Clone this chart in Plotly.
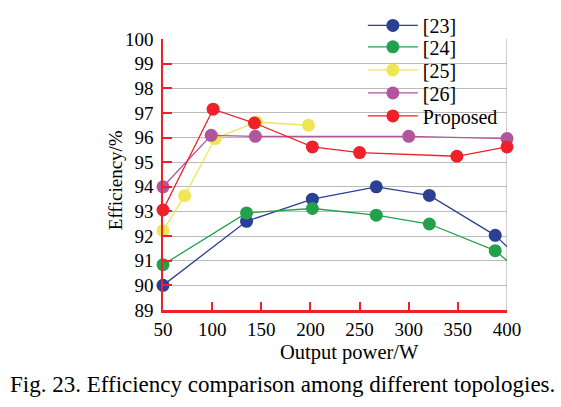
import plotly.graph_objects as go

# ---- data ----
x23 = [50, 135, 202, 267, 321, 388]
y23 = [90.0, 92.6, 93.5, 94.0, 93.65, 92.03]
tail23_x = [388, 430]
tail23_y = [92.03, 90.42]

x24 = [50, 135, 202, 267, 321, 388]
y24 = [90.84, 92.94, 93.12, 92.85, 92.49, 91.41]
tail24_x = [388, 430]
tail24_y = [91.41, 89.98]

x25 = [50, 72, 103, 145, 198]
y25 = [92.22, 93.64, 95.96, 96.63, 96.50]

x26 = [50, 99, 144, 300, 400]
y26 = [94.0, 96.09, 96.05, 96.05, 95.96]

xp = [50, 101, 143, 202, 250, 349, 400]
yp = [93.06, 97.15, 96.59, 95.62, 95.39, 95.24, 95.62]

names = ["[23]", "[24]", "[25]", "[26]", "Proposed"]
colors = ["#2B3F95", "#23A04C", "#EEE655", "#B0559E", "#EE2029"]

x_ticks = [50, 100, 150, 200, 250, 300, 350, 400]
y_ticks = list(range(89, 101))

FONT = "Liberation Serif"

fig = go.Figure()

series = [(x23, y23), (x24, y24), (x25, y25), (x26, y26), (xp, yp)]
tails = {0: (tail23_x, tail23_y), 1: (tail24_x, tail24_y)}
legend_ids = ["legend", "legend2", "legend3", "legend4", "legend5"]
legend_rows_y = [1.05, 0.971, 0.886, 0.801, 0.716]

for i, ((xs, ys), name, c) in enumerate(zip(series, names, colors)):
    if i in tails:
        tx, ty = tails[i]
        fig.add_trace(go.Scatter(x=tx, y=ty, mode="lines", line=dict(color=c, width=1.3),
                                 showlegend=False, hoverinfo="skip"))
    fig.add_trace(go.Scatter(x=xs, y=ys, mode="lines+markers", name=name,
                             line=dict(color=c, width=1.3),
                             marker=dict(color=c, size=13),
                             cliponaxis=False, legend=legend_ids[i]))

fig.add_shape(type="line", xref="x", yref="paper", x0=400, x1=400, y0=0, y1=1,
              line=dict(color="#BBBBBB", width=1.5), layer="below")

legend_layouts = {}
for lid, ly in zip(legend_ids, legend_rows_y):
    legend_layouts[lid] = dict(x=0.581, xanchor="left", y=ly, yanchor="middle",
                               bgcolor="rgba(0,0,0,0)", font=dict(family=FONT, size=20),
                               itemwidth=50)

fig.update_layout(
    width=561, height=407,
    margin=dict(l=163, r=54, t=38.5, b=97, autoexpand=False),
    paper_bgcolor="white", plot_bgcolor="white",
    font=dict(family=FONT, size=19, color="black"),
    showlegend=True,
    xaxis=dict(range=[50, 400], tickvals=x_ticks, ticks="inside", ticklen=8,
               tickcolor="#EE2029", tickwidth=1.5, showline=True, linecolor="#EE2029",
               linewidth=3, showgrid=False, zeroline=False,
               tickfont=dict(family=FONT, size=19)),
    yaxis=dict(range=[89, 100], tickvals=y_ticks, ticks="inside", ticklen=9,
               tickcolor="#EE2029", tickwidth=1.5, showline=True, linecolor="#EE2029",
               linewidth=1.5, showgrid=True, gridcolor="#BBBBBB", gridwidth=1,
               zeroline=False, tickfont=dict(family=FONT, size=19),
               ticklabelstandoff=4),
    annotations=[
        dict(text="Efficiency/%", xref="paper", yref="paper", x=-0.1395, y=0.479,
             xanchor="center", yanchor="middle",
             textangle=-90, showarrow=False, font=dict(family=FONT, size=19)),
        dict(text="Output power/W", xref="paper", yref="paper", x=0.541, y=-0.158,
             xanchor="center", yanchor="middle", showarrow=False,
             font=dict(family=FONT, size=20.5)),
        dict(text="Fig. 23. Efficiency comparison among different topologies.",
             xref="paper", yref="paper", x=0.346, y=-0.276, xanchor="center", yanchor="middle",
             showarrow=False, font=dict(family=FONT, size=23)),
    ],
    **legend_layouts,
)

fig.write_html("out.html", config={"displayModeBar": False},
               post_script="document.body.style.margin='0';")
